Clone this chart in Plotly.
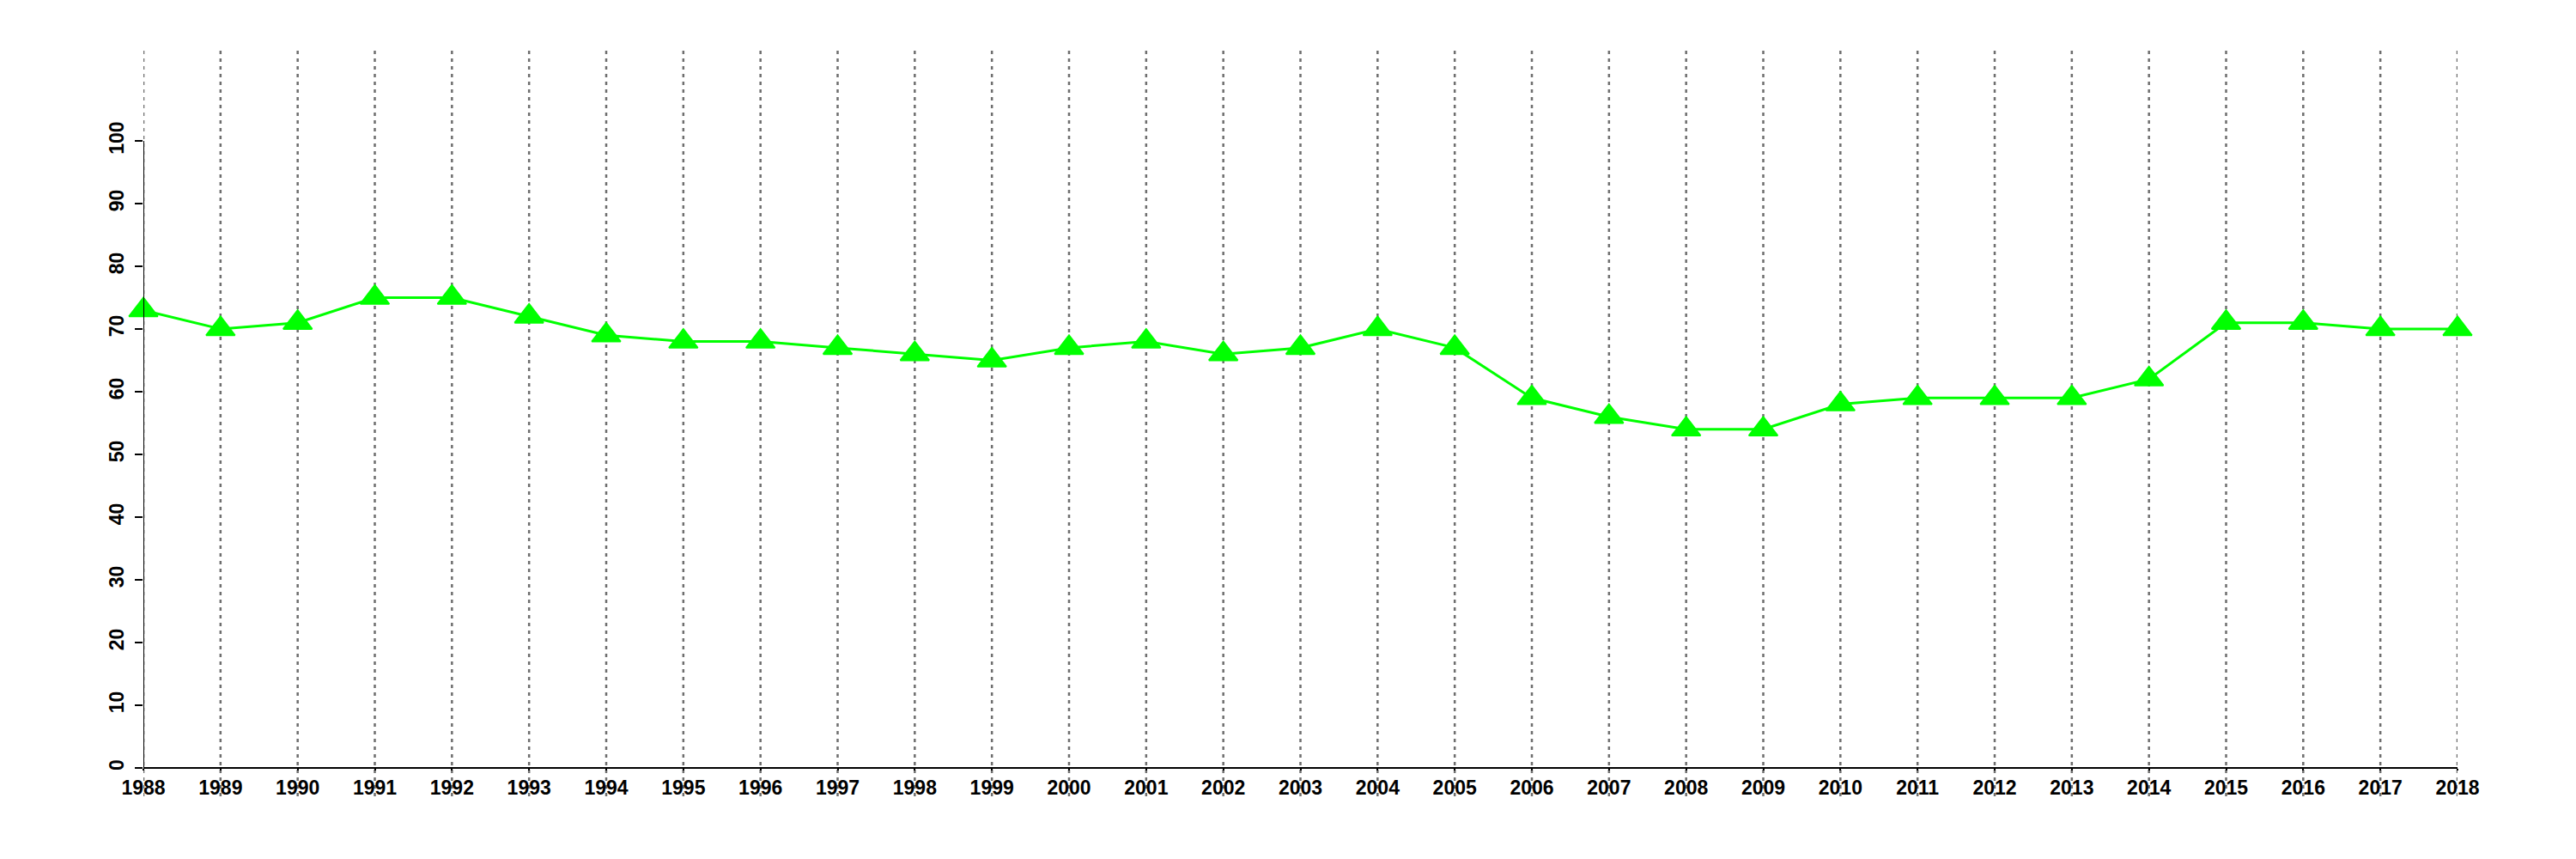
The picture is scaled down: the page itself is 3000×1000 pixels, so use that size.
import plotly.graph_objects as go

years = list(range(1988, 2019))
values = [73, 70, 71, 75, 75, 72, 69, 68, 68, 67, 66, 65, 67, 68, 66, 67, 70, 67,
          59, 56, 54, 54, 58, 59, 59, 59, 62, 71, 71, 70, 70]
y_ticks = list(range(0, 101, 10))

# page body has an 8px default margin; compensate so the plot lands at target pixels
OFF = 8
W, H = 3000 - OFF, 1000 - OFF
m_l, m_r, m_t, m_b = 167 - OFF, 138, 59 - OFF, 73
y0_px, y100_px = 894, 164
ppu = (y0_px - y100_px) / (y_ticks[-1] - y_ticks[0])
y_top = (y0_px - 59) / ppu
y_bot = -((1000 - m_b) - y0_px) / ppu

fig = go.Figure()
fig.add_trace(go.Scatter(
    x=years, y=values, mode="lines+markers",
    line=dict(color="#00ff00", width=3),
    marker=dict(symbol="triangle-up", size=29, color="#00ff00",
                line=dict(color="#00ff00", width=2)),
    cliponaxis=False, showlegend=False,
))

shapes = []
for yr in years:
    shapes.append(dict(type="line", xref="x", yref="paper", x0=yr, x1=yr, y0=0, y1=1,
                       line=dict(color="#6e6e6e", width=2.5, dash="4px,5px"), layer="below"))
shapes.append(dict(type="line", xref="x", yref="y", x0=years[0], x1=years[0],
                   y0=y_ticks[0], y1=y_ticks[-1], line=dict(color="black", width=2)))
fig.update_layout(shapes=shapes)

font = dict(family="Liberation Sans, Arial, sans-serif", size=23, color="black", weight="bold")

fig.update_layout(
    width=W, height=H,
    margin=dict(l=m_l, r=m_r, t=m_t, b=m_b, pad=0),
    plot_bgcolor="white", paper_bgcolor="white",
    xaxis=dict(range=[years[0], years[-1]], tickvals=years, ticktext=[str(y) for y in years],
               showgrid=False, zeroline=False, showline=True, linecolor="black", linewidth=2,
               ticks="outside", ticklen=2, tickwidth=2, tickcolor="black",
               anchor="free", position=(-y_bot) / (y_top - y_bot),
               tickfont=font, tickangle=0),
    yaxis=dict(range=[y_bot, y_top], tickvals=y_ticks, ticktext=[str(v) for v in y_ticks],
               showgrid=False, zeroline=False, showline=False,
               ticks="outside", ticklen=9, tickwidth=2, tickcolor="black",
               tickangle=-90, tickfont=font, ticklabelstandoff=4),
)

fig.write_html("out.html")
